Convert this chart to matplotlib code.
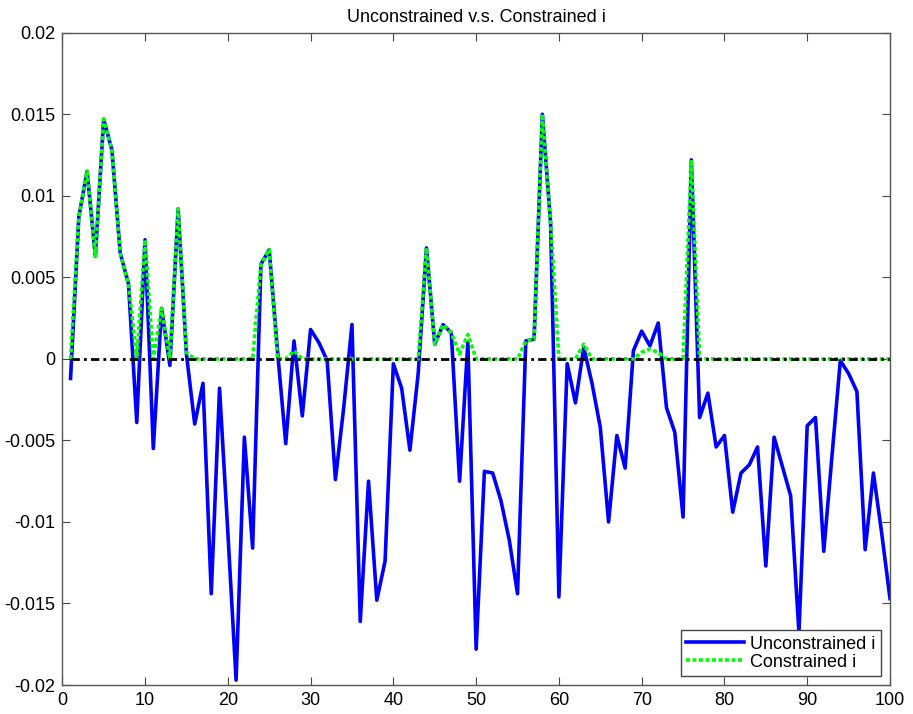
import matplotlib
matplotlib.use("Agg")
import matplotlib.pyplot as plt
import numpy as np

# --- DATA ---
x_index = np.arange(1, 101)

unconstrained_i = [
    -0.0012, 0.0087, 0.0115, 0.0063, 0.0147, 0.0128, 0.0065, 0.0046, -0.0039, 0.0073,
    -0.0055, 0.0031, -0.0004, 0.0092, 0.0003, -0.0040, -0.0015, -0.0144, -0.0018, -0.0106,
    -0.0197, -0.0048, -0.0116, 0.0058, 0.0067, 0.0005, -0.0052, 0.0011, -0.0035, 0.0018,
    0.0010, -0.0001, -0.0074, -0.0030, 0.0021, -0.0161, -0.0075, -0.0148, -0.0124, -0.0003,
    -0.0018, -0.0056, -0.0009, 0.0068, 0.0009, 0.0021, 0.0016, -0.0075, 0.0010, -0.0178,
    -0.0069, -0.0070, -0.0087, -0.0111, -0.0144, 0.0011, 0.0012, 0.0150, 0.0083, -0.0146,
    -0.0003, -0.0027, 0.0007, -0.0015, -0.0042, -0.0100, -0.0047, -0.0067, 0.0005, 0.0017,
    0.0008, 0.0022, -0.0030, -0.0045, -0.0097, 0.0122, -0.0036, -0.0021, -0.0054, -0.0047,
    -0.0094, -0.0070, -0.0065, -0.0054, -0.0127, -0.0048, -0.0066, -0.0084, -0.0168, -0.0041,
    -0.0036, -0.0118, -0.0059, -0.0001, -0.0009, -0.0020, -0.0117, -0.0070, -0.0107, -0.0147,
]

constrained_i = [
    0.0, 0.0087, 0.0115, 0.0063, 0.0147, 0.0128, 0.0065, 0.0046, 0.0, 0.0073,
    0.0, 0.0031, 0.0, 0.0092, 0.0004, 0.0, 0.0, 0.0, 0.0, 0.0,
    0.0, 0.0, 0.0, 0.0058, 0.0067, 0.0, 0.0, 0.0005, 0.0, 0.0,
    0.0, 0.0, 0.0, 0.0, 0.0, 0.0, 0.0, 0.0, 0.0, 0.0,
    0.0, 0.0, 0.0, 0.0068, 0.0009, 0.0021, 0.0016, 0.0003, 0.0015, 0.0,
    0.0, 0.0, 0.0, 0.0, 0.0, 0.0011, 0.0012, 0.0150, 0.0083, 0.0,
    0.0, 0.0, 0.0009, 0.0, 0.0, 0.0, 0.0, 0.0, 0.0, 0.0004,
    0.0006, 0.0004, 0.0, 0.0, 0.0, 0.0122, 0.0, 0.0, 0.0, 0.0,
    0.0, 0.0, 0.0, 0.0, 0.0, 0.0, 0.0, 0.0, 0.0, 0.0,
    0.0, 0.0, 0.0, 0.0, 0.0, 0.0, 0.0, 0.0, 0.0, 0.0,
]

zero_line = np.zeros(len(x_index))

x_ticks = [0, 10, 20, 30, 40, 50, 60, 70, 80, 90, 100]
y_ticks = [-0.02, -0.015, -0.01, -0.005, 0, 0.005, 0.01, 0.015, 0.02]
y_tick_labels = ["-0.02", "-0.015", "-0.01", "-0.005", "0", "0.005", "0.01", "0.015", "0.02"]

# --- STYLE ---
plt.rcParams["font.family"] = ["Liberation Sans", "DejaVu Sans"]
plt.rcParams["font.size"] = 13

fig = plt.figure(figsize=(9.13, 7.14), dpi=100)
ax = fig.add_axes([0.0682, 0.0406, 0.9066, 0.9136])

ax.plot(x_index, unconstrained_i, color="#0000ff", lw=2.6, label="Unconstrained i")
ax.plot(x_index, constrained_i, color="#00ff00", lw=2.6, linestyle=(0, (1.1, 0.7)),
        label="Constrained i")
ax.plot(x_index, zero_line, color="black", lw=2.0, linestyle=(0, (3, 1.5, 1, 1.5)))

ax.set_xlim(0, 100)
ax.set_ylim(-0.02, 0.02)
ax.set_xticks(x_ticks)
ax.set_yticks(y_ticks)
ax.set_yticklabels(y_tick_labels)

# MATLAB-like box with inward ticks on every side
ax.tick_params(direction="in", length=6, width=0.8, color="#444444",
               top=True, right=True, labelsize=13, pad=5)
for spine in ax.spines.values():
    spine.set_color("#555555")
    spine.set_linewidth(1.0)

ax.set_title("Unconstrained v.s. Constrained i", fontsize=13, pad=8)

leg = ax.legend(loc="lower right", fancybox=False, framealpha=1, edgecolor="#444444",
                handlelength=3.2, handletextpad=0.35, labelspacing=0.05,
                borderpad=0.3, borderaxespad=0.5, fontsize=13)
leg.get_frame().set_linewidth(1.0)

fig.savefig("out.png", dpi=100)
